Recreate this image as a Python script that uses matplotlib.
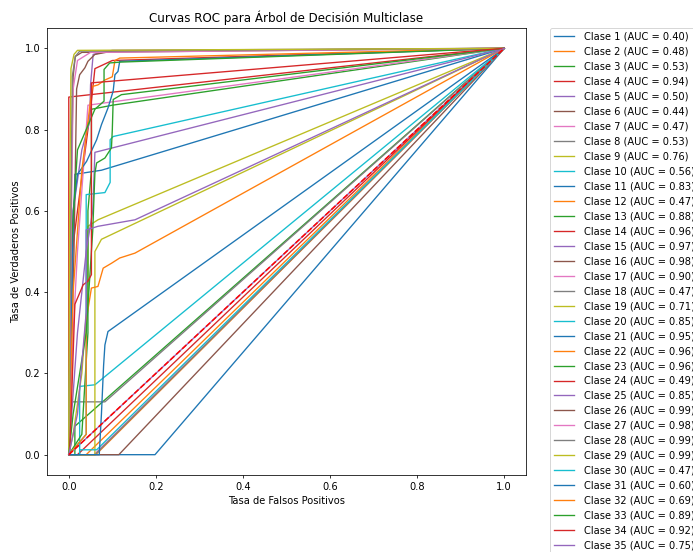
import matplotlib
matplotlib.use('Agg')
from matplotlib import pyplot as plt

# Puntos ROC (fpr, tpr), una lista por clase
fpr_pts = [
    [0, 0.198, 1],
    [0, 0.04, 1],
    [0, 0.014, 0.014, 1],
    [0, 0, 1],
    [0, 1],
    [0, 0.115, 1],
    [0, 0.058, 1],
    [0, 0.002, 0.083, 1],
    [0, 0.01, 0.03, 0.044, 0.044, 0.067, 1],
    [0, 0.025, 0.025, 0.06, 1],
    [0, 0.005, 0.014, 0.075, 1],
    [0, 0.062, 1],
    [0, 0.03, 0.044, 0.044, 0.052, 0.052, 0.1, 1],
    [0, 0.002, 0.02, 0.05, 0.06, 0.1, 1],
    [0, 0.01, 0.03, 0.048, 0.05, 0.056, 0.1, 1],
    [0, 0.012, 0.018, 0.025, 0.037, 0.044, 0.06, 0.1, 1],
    [0, 0.01, 0.02, 0.04, 0.044, 1],
    [0, 0.06, 1],
    [0, 0.06, 0.06, 0.075, 1],
    [0, 0.04, 0.04, 0.083, 0.095, 0.095, 0.102, 1],
    [0, 0.005, 0.01, 0.02, 0.041, 0.064, 0.075, 0.09, 0.102, 0.106, 0.113, 0.117, 1],
    [0, 0.01, 0.03, 0.044, 0.054, 0.067, 0.083, 0.1, 0.106, 0.117, 1],
    [0, 0.005, 0.02, 0.06, 0.081, 0.081, 0.094, 0.117, 1],
    [0, 0.02, 1],
    [0, 0.02, 0.04, 0.055, 0.06, 1],
    [0, 0.005, 0.01, 0.015, 0.03, 1],
    [0, 0.005, 0.01, 0.02, 0.05, 1],
    [0, 0.004, 0.008, 0.015, 0.025, 1],
    [0, 0.002, 0.005, 0.012, 0.02, 1],
    [0, 0.025, 0.025, 0.064, 1],
    [0, 0.07, 0.075, 0.08, 0.083, 0.09, 1],
    [0, 0.04, 0.04, 0.052, 0.067, 0.079, 0.098, 0.117, 0.152, 1],
    [0, 0.01, 0.04, 0.055, 0.058, 0.06, 0.064, 0.083, 0.098, 0.1, 0.102, 0.121, 1],
    [0, 0.002, 0.014, 0.033, 0.044, 0.052, 0.052, 1],
    [0, 0.02, 0.04, 0.04, 0.067, 0.152, 1],
]
tpr_pts = [
    [0, 0, 1],
    [0, 0, 1],
    [0, 0, 0.07, 1],
    [0, 0.88, 1],
    [0, 1],
    [0, 0, 1],
    [0, 0, 1],
    [0, 0.13, 0.13, 1],
    [0, 0.05, 0.2, 0.4, 0.562, 0.578, 1],
    [0, 0, 0.168, 0.172, 1],
    [0, 0.3, 0.69, 0.70, 1],
    [0, 0, 1],
    [0, 0.05, 0.3, 0.6, 0.7, 0.85, 0.86, 1],
    [0, 0.45, 0.6, 0.85, 0.95, 0.97, 1],
    [0, 0.6, 0.75, 0.82, 0.91, 0.985, 0.995, 1],
    [0, 0.5, 0.9, 0.935, 0.952, 0.968, 0.985, 0.993, 1],
    [0, 0.3, 0.5, 0.8, 0.86, 1],
    [0, 0, 1],
    [0, 0, 0.50, 0.53, 1],
    [0, 0.05, 0.64, 0.645, 0.67, 0.775, 0.783, 1],
    [0, 0.3, 0.6, 0.69, 0.722, 0.775, 0.812, 0.853, 0.895, 0.935, 0.943, 0.968, 1],
    [0, 0.4, 0.7, 0.82, 0.906, 0.91, 0.922, 0.93, 0.97, 0.976, 1],
    [0, 0.5, 0.75, 0.85, 0.87, 0.948, 0.964, 0.966, 1],
    [0, 0, 1],
    [0, 0.3, 0.5, 0.6, 0.744, 1],
    [0, 0.6, 0.93, 0.98, 0.99, 1],
    [0, 0.5, 0.9, 0.97, 0.99, 1],
    [0, 0.5, 0.93, 0.98, 0.993, 1],
    [0, 0.6, 0.95, 0.985, 0.995, 1],
    [0, 0, 0.012, 0.012, 1],
    [0, 0, 0.1, 0.22, 0.27, 0.303, 1],
    [0, 0.05, 0.33, 0.41, 0.414, 0.459, 0.471, 0.484, 0.496, 1],
    [0, 0.1, 0.3, 0.55, 0.636, 0.693, 0.718, 0.73, 0.755, 0.8, 0.874, 0.886, 1],
    [0, 0, 0.37, 0.418, 0.427, 0.443, 0.915, 1],
    [0, 0.1, 0.35, 0.553, 0.562, 0.578, 1],
]
auc_vals = [0.40, 0.48, 0.53, 0.94, 0.50, 0.44, 0.47, 0.53, 0.76, 0.56,
            0.83, 0.47, 0.88, 0.96, 0.97, 0.98, 0.90, 0.47, 0.71, 0.85,
            0.95, 0.96, 0.96, 0.49, 0.85, 0.99, 0.98, 0.99, 0.99, 0.47,
            0.60, 0.69, 0.89, 0.92, 0.75]

dpi = 69.3
plt.rcParams['font.size'] = 10.3
fig = plt.figure(figsize=(693 / dpi, 552 / dpi), dpi=dpi)
ax = fig.add_axes([47 / 693, 77 / 552, 479 / 693, 447 / 552])

for i in range(len(auc_vals)):
    ax.plot(fpr_pts[i], tpr_pts[i], linewidth=1.4,
            label='Clase %d (AUC = %.2f)' % (i + 1, auc_vals[i]))

ax.plot([0, 1], [0, 1], 'r--', linewidth=1.6)
ax.set_xlim(-0.05, 1.05)
ax.set_ylim(-0.05, 1.05)
ax.set_xlabel('Tasa de Falsos Positivos')
ax.set_ylabel('Tasa de Verdaderos Positivos')
ax.set_title('Curvas ROC para Árbol de Decisión Multiclase', fontsize=12.4)
ax.legend(loc='upper left', bbox_to_anchor=(1.05, 1), borderaxespad=0,
          handletextpad=1.0)

fig.savefig('out.png', dpi=dpi)
